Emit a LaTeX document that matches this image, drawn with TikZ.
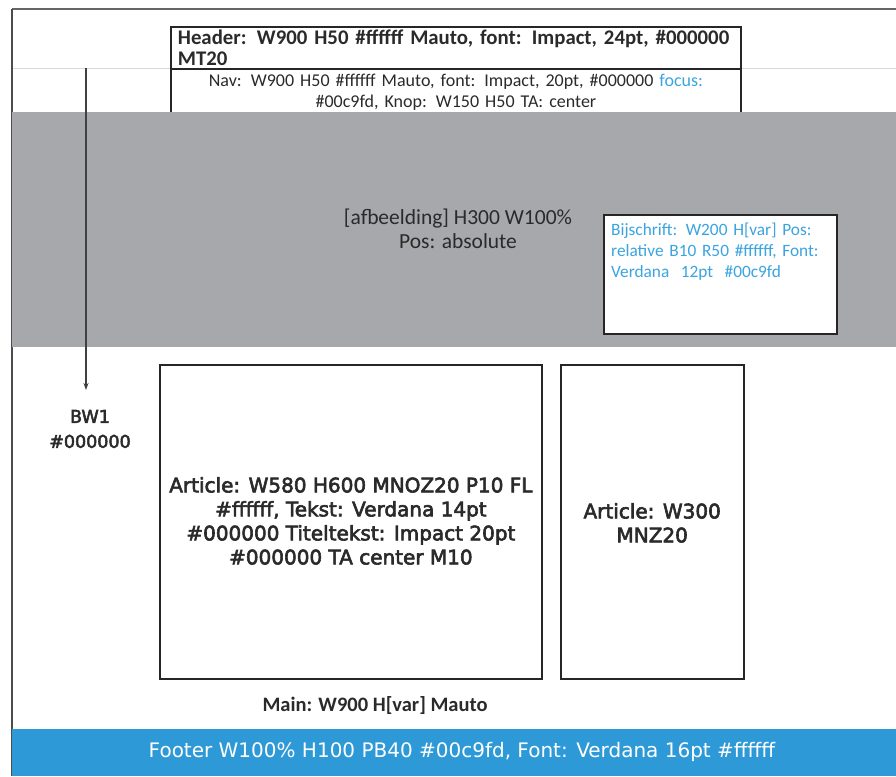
\documentclass[tikz,border=0pt]{standalone}
\usepackage{fontspec}
\setmainfont{Carlito}
\newfontfamily\verdfont{DejaVu Sans}[FakeBold=3]
\newfontfamily\verdlight{DejaVu Sans}
\usetikzlibrary{positioning,arrows.meta}

\definecolor{bandgray}{HTML}{A7A8AC}
\definecolor{footblue}{HTML}{2E99D7}
\definecolor{capblue}{HTML}{3AA4E0}
\definecolor{inktext}{HTML}{2A2A2A}

\begin{document}
\begin{tikzpicture}[x=1pt, y=-1pt,
      node distance=5mm and 5mm,                          % gaps for relative placement
      box/.style={draw=black!85, line width=1.8pt, inner sep=4pt, text=inktext},  % wireframe block
      lbl/.style={align=center, text=inktext, font={\verdfont\fontsize{20}{24}\selectfont}},
      arr/.style={-{Stealth[length=7pt, width=5pt]}, line width=1.3pt, draw=black!75}]
    \useasboundingbox (0,0) rectangle (896,776);
    % page frame
    \draw[black!60, line width=1.2pt] (12,9) -- (896,9);
    \draw[black!15, line width=0.8pt] (12,68) -- (896,68);
    \draw[black!70, line width=1.2pt] (12,9) -- (12,776);
    % header and nav
    \node[box, anchor=north west, minimum width=570pt, minimum height=42pt, text width=556pt,
          align=left, inner sep=3pt, font={\fontsize{20.8}{21}\selectfont\bfseries}] (header) at (170,26)
          {Header: W900 H50 \#ffffff Mauto, font: Impact, 24pt, \#000000\\MT20};
    \node[box, below=-1.8pt of header, minimum width=570pt, minimum height=46pt, text width=556pt,
          align=center, font={\fontsize{18}{21}\selectfont}] (nav)
          {Nav: W900 H50 \#ffffff Mauto, font: Impact, 20pt, \#000000 \textcolor{capblue}{focus:}\\\#00c9fd, Knop: W150 H50 TA: center};
    % image band
    \fill[bandgray] (12,112) rectangle (896,347);
    \node[align=center, text=inktext, font={\fontsize{21.5}{24}\selectfont}] (image) at (458,229)
          {[afbeelding] H300 W100\%\\Pos: absolute};
    \node[box, fill=white, anchor=north west, minimum width=233pt, minimum height=119pt] (caption) at (603,214) {};
    \node[anchor=north west, text width=221pt, align=left, text=capblue, inner sep=0pt,
          font={\fontsize{17.3}{21}\selectfont}] (captext) at (611,223)
          {Bijschrift: W200 H[var] Pos:\\relative B10 R50 \#ffffff, Font:\\Verdana\ \ 12pt\ \ \#00c9fd};
    % border width note
    \coordinate (arrtop) at (86,68);
    \coordinate (arrend) at (86,390);
    \node[lbl, font={\verdfont\fontsize{17.5}{25}\selectfont}] (border) at (90,429) {BW1\\\#000000};
    \draw[arr] (arrtop) -- (arrend);
    % main content
    \node[box, anchor=north west, minimum width=382pt, minimum height=314pt] (art1) at (159,364) {};
    \node[lbl] at (art1.center) [yshift=1pt] {Article: W580 H600 MNOZ20 P10 FL\\\#ffffff, Tekst: Verdana 14pt\\\#000000 Titeltekst: Impact 20pt\\\#000000 TA center M10};
    \node[box, right=17pt of art1, minimum width=183pt, minimum height=314pt] (art2) {};
    \node[lbl] at (art2.center) [yshift=-1pt] {Article: W300\\MNZ20};
    \node[text=inktext, font={\fontsize{20.5}{24}\selectfont\bfseries}] (main) at (375,706) {Main: W900 H[var] Mauto};
    % footer
    \fill[footblue] (12,729) rectangle (896,776);
    \node[text=white, font={\verdlight\fontsize{20}{22}\selectfont}] (footer) at (462,752) {Footer W100\% H100 PB40 \#00c9fd, Font: Verdana 16pt \#ffffff};
  \end{tikzpicture}
\end{document}
